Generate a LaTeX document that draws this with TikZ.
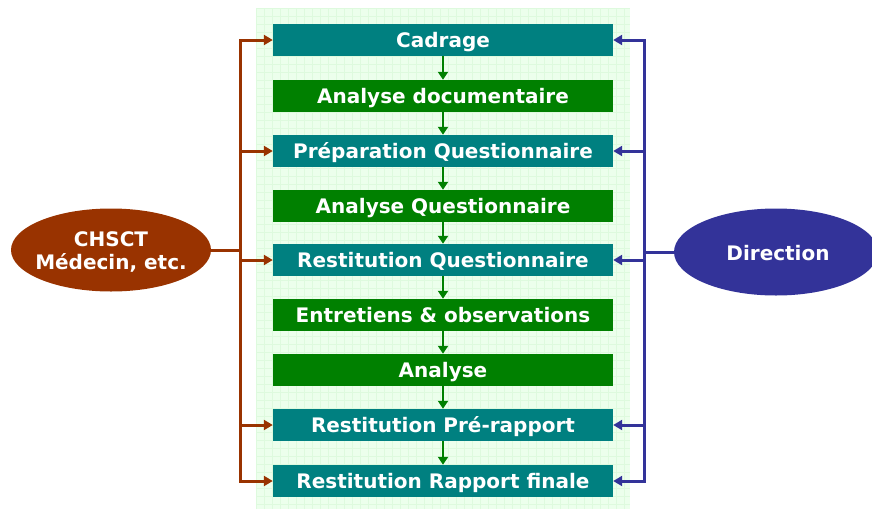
\documentclass[tikz,border=0pt]{standalone}
\usepackage{fontspec}
\setmainfont{DejaVu Sans}
\usetikzlibrary{shapes.geometric,arrows.meta}
\definecolor{tealbox}{RGB}{0,128,128}
\definecolor{greenbox}{RGB}{0,128,0}
\definecolor{brownc}{RGB}{153,51,0}
\definecolor{bluec}{RGB}{51,51,153}
\definecolor{bgfill}{RGB}{236,255,236}
\definecolor{bggrid}{RGB}{222,250,222}
\begin{document}
\begin{tikzpicture}[x=1pt,y=-1pt,
  stepbox/.style={minimum width=340pt,minimum height=32pt,inner sep=0pt,text height=18pt,text depth=4pt,text=white,font=\fontsize{20}{22}\selectfont\bfseries},
  tbox/.style={stepbox,fill=tealbox},
  gbox/.style={stepbox,fill=greenbox},
  flow/.style={greenbox,line width=2.8pt,-{Triangle[length=8pt,width=10pt]}},
  lflow/.style={brownc,line width=3pt,-{Triangle[length=9pt,width=10pt]}},
  rflow/.style={bluec,line width=3pt,-{Triangle[length=9pt,width=10pt]}},
  actor/.style={ellipse,inner sep=0pt},
  actortext/.style={text=white,align=center,inner sep=0pt,font=\fontsize{20}{23}\selectfont\bfseries}]
\useasboundingbox (0,0) rectangle (872,509);
\fill[bgfill] (256,8) rectangle (630,509);
\begin{scope}
\clip (256,8) rectangle (630,509);
\draw[bggrid,line width=0.6pt,step=8pt] (256,8) grid (630,509);
\end{scope}
\node[tbox] (n1) at (443,40) {Cadrage};
\node[gbox] (n2) at (443,96) {Analyse documentaire};
\node[tbox] (n3) at (443,151) {Préparation Questionnaire};
\node[gbox] (n4) at (443,206) {Analyse Questionnaire};
\node[tbox] (n5) at (443,260) {Restitution Questionnaire};
\node[gbox] (n6) at (443,315) {Entretiens \& observations};
\node[gbox] (n7) at (443,370) {Analyse};
\node[tbox] (n8) at (443,425) {Restitution Pré-rapport};
\node[tbox] (n9) at (443,481) {Restitution Rapport finale};
\foreach \a/\b in {n1/n2,n2/n3,n3/n4,n4/n5,n5/n6,n6/n7,n7/n8,n8/n9}
  \draw[flow] (\a.south) -- (\b.north);
\node[actor,fill=brownc,minimum width=200pt,minimum height=83pt] (chs) at (111,250) {};
\node[actortext] (chst) at (111,252) {CHSCT\\Médecin, etc.};
\node[actor,fill=bluec,minimum width=204pt,minimum height=87pt] (dir) at (776,252) {};
\node[actortext] (dirt) at (778,253) {Direction};
\coordinate (lt) at (240,40);
\coordinate (lb) at (240,481);
\coordinate (rt) at (644,40);
\coordinate (rb) at (644,481);
\draw[brownc,line width=3pt,line cap=rect] (lt) -- (lb);
\draw[brownc,line width=3pt] (chs.east) -- (chs.east -| lt);
\draw[bluec,line width=3pt,line cap=rect] (rt) -- (rb);
\draw[bluec,line width=3pt] (dir.west) -- (dir.west -| rt);
\foreach \n in {n1,n3,n5,n8,n9}{
  \draw[lflow] (\n.west -| lt) -- (\n.west);
  \draw[rflow] (\n.east -| rt) -- (\n.east);
}
\end{tikzpicture}
\end{document}
